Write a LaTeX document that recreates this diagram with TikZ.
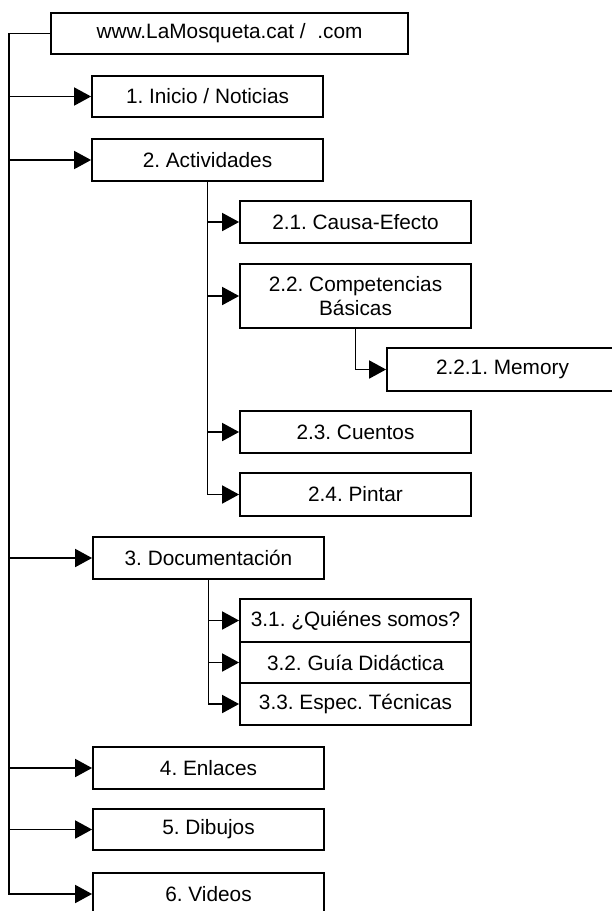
\documentclass[tikz,border=0pt]{standalone}
\usepackage{fontspec}
\setmainfont{Liberation Sans}
\usetikzlibrary{arrows.meta}
\begin{document}
\begin{tikzpicture}[x=1pt,y=-1pt,
  box/.style={draw, line width=1.8pt, fill=white, inner sep=0pt, minimum width=231pt, minimum height=42pt, align=center,
    font=\fontsize{20.8}{23.5}\selectfont\frenchspacing},
  arr/.style={line width=1.8pt, -{Triangle[length=17pt,width=18pt]}}]
\useasboundingbox (0,0) rectangle (612,911);
\clip (0,0) rectangle (612,911);
\fill[white] (0,0) rectangle (612,911);
% nodes
\node[box, minimum width=357pt, minimum height=41pt] (root) at (229.5,33.5) {www.LaMosqueta.cat /\ \ .com};
\node[box, minimum height=41pt] (n1) at (207.5,96.5) {1. Inicio / Noticias};
\node[box] (n2) at (207.5,160) {2. Actividades};
\node[box] (n21) at (355.5,222) {2.1. Causa-Efecto};
\node[box, minimum height=64pt] (n22) at (355.5,296) {2.2. Competencias\\Básicas};
\node[box, minimum height=43pt] (n221) at (502.5,369.5) {2.2.1. Memory};
\node[box] (n23) at (355.5,432) {2.3. Cuentos};
\node[box, minimum height=43pt] (n24) at (355.5,494.5) {2.4. Pintar};
\node[box] (n3) at (208.5,558) {3. Documentación};
\node[box, minimum height=43pt] (n31) at (355.5,620.5) {3.1. ¿Quiénes somos?};
\node[box, minimum height=41pt] (n32) at (355.5,662.5) {3.2. Guía Didáctica};
\node[box, minimum height=42pt] (n33) at (355.5,704) {3.3. Espec. Técnicas};
\node[box] (n4) at (208.5,768) {4. Enlaces};
\node[box, minimum height=41pt] (n5) at (208.5,829.5) {5. Dibujos};
\node[box] (n6) at (208.5,894) {6. Videos};
% connectors
\foreach \c in {n1,n2,n3,n4,n5,n6}
  \draw[arr] (root.west) -- ++(-41,0) |- (\c.west);
\foreach \c in {n21,n22,n23,n24}
  \draw[arr] (n2.south) |- (\c.west);
\draw[arr] (n22.south) |- (n221.west);
\foreach \c in {n31,n32,n33}
  \draw[arr] (n3.south) |- (\c.west);
\end{tikzpicture}
\end{document}
